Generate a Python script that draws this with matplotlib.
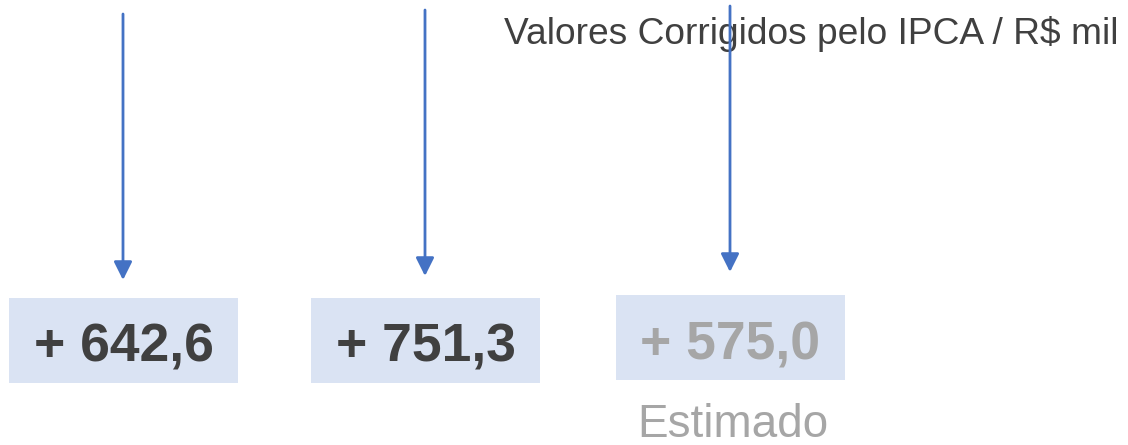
import matplotlib
matplotlib.use('Agg')
import matplotlib.pyplot as plt
from matplotlib.patches import Rectangle, FancyArrowPatch

plt.rcParams['font.family'] = ['Liberation Sans', 'DejaVu Sans']

# data
values = [642.6, 751.3, 575.0]
estimated = [False, False, True]
title = 'Valores Corrigidos pelo IPCA / R$ mil'
est_label = 'Estimado'

# layout (pixel coordinates, y downwards)
arrow_x = [123, 425, 730]
arrow_top = [14, 10, 6]
arrow_tip = [280, 276, 272]
box_x = [9, 311, 616]
box_top = [298, 298, 295]
box_w, box_h = 229, 85

BLUE = '#4472C4'
BOX = '#DAE3F3'
DARK = '#404040'
GREY = '#A6A6A6'


def fmt(v):
    return '+ ' + f'{v:.1f}'.replace('.', ',')


def main():
    fig = plt.figure(figsize=(11.28, 4.45), dpi=100)
    ax = fig.add_axes([0, 0, 1, 1])
    ax.set_xlim(0, 1128)
    ax.set_ylim(445, 0)
    ax.axis('off')

    ax.text(1118, 44, title, ha='right', va='baseline', fontsize=26.7, color=DARK)

    for i, v in enumerate(values):
        ax.add_patch(FancyArrowPatch((arrow_x[i], arrow_top[i]), (arrow_x[i], arrow_tip[i]),
                                     arrowstyle='-|>,head_length=1.1,head_width=0.55',
                                     mutation_scale=10, color=BLUE, lw=2,
                                     shrinkA=0, shrinkB=0, zorder=3))
        ax.add_patch(Rectangle((box_x[i], box_top[i]), box_w, box_h,
                               facecolor=BOX, edgecolor='none'))
        ax.text(box_x[i] + box_w / 2, box_top[i] + 64, fmt(v),
                ha='center', va='baseline', fontsize=38.5, fontweight='bold',
                color=GREY if estimated[i] else DARK)
        if estimated[i]:
            ax.text(box_x[i] + box_w / 2 + 2, 437, est_label, ha='center', va='baseline',
                    fontsize=33, color=GREY)

    fig.savefig('out.png', dpi=100)
    plt.close(fig)


if __name__ == '__main__':
    main()
